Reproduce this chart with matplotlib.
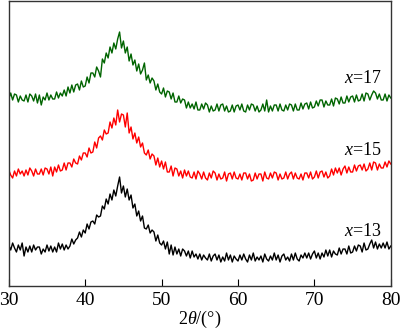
import numpy as np
import matplotlib
matplotlib.use("Agg")
import matplotlib.pyplot as plt

plt.rcParams["font.family"] = ["Liberation Serif", "DejaVu Serif"]
plt.rcParams["mathtext.fontset"] = "custom"
plt.rcParams["mathtext.rm"] = "Liberation Serif"
plt.rcParams["mathtext.it"] = "Liberation Serif:italic"

# Scan positions, 2theta in degrees (0.25 deg step)
two_theta = np.arange(30.0, 80.0001, 0.25)

# Diffracted intensity (a.u.), patterns stacked for clarity
x13 = [
    41, 36, 43, 38,  34, 41, 36, 43,  30, 39, 34, 40,  34, 41, 36, 39,
    39, 32, 37, 34,  41, 35, 40, 34,  39, 34, 43, 37,  42, 36, 41, 37,
    40, 47, 42, 46,  48, 54, 49, 56,  53, 62, 57, 64,  65, 62, 71, 69,
    70, 80, 77, 87,  82, 92, 86, 96,  90, 100, 109, 93,  100, 89, 97, 86,
    91, 78, 82, 70,  75, 65, 70, 58,  57, 61, 53, 56,  54, 45, 51, 43,
    41, 45, 37, 44,  32, 41, 31, 39,  32, 37, 30, 37,  35, 30, 35, 28,
    35, 29, 32, 27,  32, 26, 31, 28,  26, 32, 25, 30,  32, 26, 31, 24,
    29, 25, 33, 26,  31, 24, 30, 27,  25, 31, 26, 32,  27, 24, 31, 26,
    33, 25, 29, 26,  30, 24, 32, 27,  25, 30, 26, 33,  26, 31, 24, 30,
    32, 26, 29, 25,  32, 26, 33, 27,  25, 31, 28, 33,  28, 33, 27, 32,
    35, 28, 33, 27,  33, 29, 36, 30,  36, 29, 35, 32,  31, 38, 32, 37,
    37, 32, 40, 33,  34, 40, 35, 41,  40, 34, 43, 36,  37, 42, 46, 38,
    44, 37, 42, 38,  43, 38, 44, 37,
    40,
]

x15 = [
    116, 111, 108, 115,  110, 117, 112, 115,  110, 116, 111, 118,  115, 110, 117, 112,
    112, 117, 111, 118,  117, 112, 119, 110,  119, 114, 121, 115,  116, 123, 116, 123,
    123, 119, 127, 123,  122, 130, 126, 133,  133, 129, 138, 133,  134, 144, 138, 148,
    150, 146, 156, 152,  153, 164, 158, 168,  161, 176, 164, 172,  171, 159, 173, 153,
    159, 147, 153, 143,  149, 139, 143, 133,  131, 136, 127, 132,  130, 121, 128, 119,
    125, 117, 124, 114,  114, 120, 110, 118,  117, 110, 115, 108,  116, 110, 115, 109,
    108, 114, 107, 115,  112, 107, 114, 108,  106, 113, 108, 115,  113, 106, 112, 107,
    108, 114, 105, 112,  113, 107, 114, 108,  107, 112, 106, 113,  113, 107, 112, 105,
    106, 113, 107, 112,  112, 105, 114, 108,  107, 113, 108, 114,  113, 106, 112, 107,
    108, 114, 107, 112,  114, 107, 113, 108,  107, 112, 106, 113,  113, 108, 114, 107,
    109, 115, 108, 114,  115, 109, 114, 108,  110, 117, 111, 118,  113, 118, 111, 117,
    120, 113, 119, 114,  114, 121, 115, 120,  121, 116, 122, 115,  117, 123, 116, 124,
    123, 116, 122, 118,  118, 124, 119, 125,
    122,
]

x17 = [
    187, 193, 186, 192,  191, 184, 190, 186,  185, 191, 184, 192,  190, 185, 192, 183,
    191, 181, 189, 186,  193, 186, 191, 187,  187, 194, 188, 193,  190, 196, 190, 199,
    193, 201, 194, 201,  202, 196, 205, 199,  200, 209, 203, 213,  213, 209, 219, 215,
    209, 227, 223, 233,  228, 239, 233, 243,  237, 247, 254, 238,  245, 233, 239, 225,
    232, 221, 226, 215,  222, 212, 216, 223,  206, 211, 203, 208,  205, 196, 202, 194,
    192, 198, 189, 195,  194, 187, 193, 184,  184, 190, 183, 187,  186, 178, 184, 178,
    182, 177, 184, 176,  176, 182, 177, 183,  181, 174, 180, 175,  176, 182, 175, 181,
    182, 175, 180, 174,  175, 181, 174, 180,  181, 176, 182, 175,  174, 181, 176, 182,
    181, 175, 180, 174,  176, 182, 175, 186,  174, 180, 175, 181,  181, 175, 182, 176,
    175, 181, 176, 182,  181, 175, 182, 176,  176, 183, 177, 182,  183, 177, 184, 178,
    179, 185, 180, 186,  186, 179, 185, 181,  181, 187, 180, 188,  187, 182, 189, 183,
    183, 190, 184, 189,  190, 184, 191, 185,  186, 192, 185, 193,  192, 186, 191, 195,
    193, 187, 192, 186,  186, 192, 185, 191,
    188,
]

labels = ["$x$=13", "$x$=15", "$x$=17"]
series = [x13, x15, x17]
colors = ["#000000", "#ff0000", "#006400"]
label_y = [55, 136, 207]

fig = plt.figure(figsize=(4.0, 3.3), dpi=100)
ax = fig.add_axes([0.022, 0.1333, 0.955, 0.8637])

for vals, col in zip(series, colors):
    ax.plot(two_theta, vals, color=col, lw=1.0)

for text, yy in zip(labels, label_y):
    ax.text(78.8, yy, text, ha="right", va="center", fontsize=13, color="black")

ax.set_xlim(30, 80)
ax.set_ylim(0, 285)
ax.set_xticks([30, 40, 50, 60, 70, 80])
ax.set_yticks([])
ax.tick_params(axis="x", direction="in", length=5, width=0.8, labelsize=14, pad=4)
for s in ax.spines.values():
    s.set_color("#333333")
    s.set_linewidth(1.0)
ax.set_xlabel(r"2$\mathit{\theta}$/(°)", fontsize=13, labelpad=0)

fig.savefig("out.png", dpi=100)
